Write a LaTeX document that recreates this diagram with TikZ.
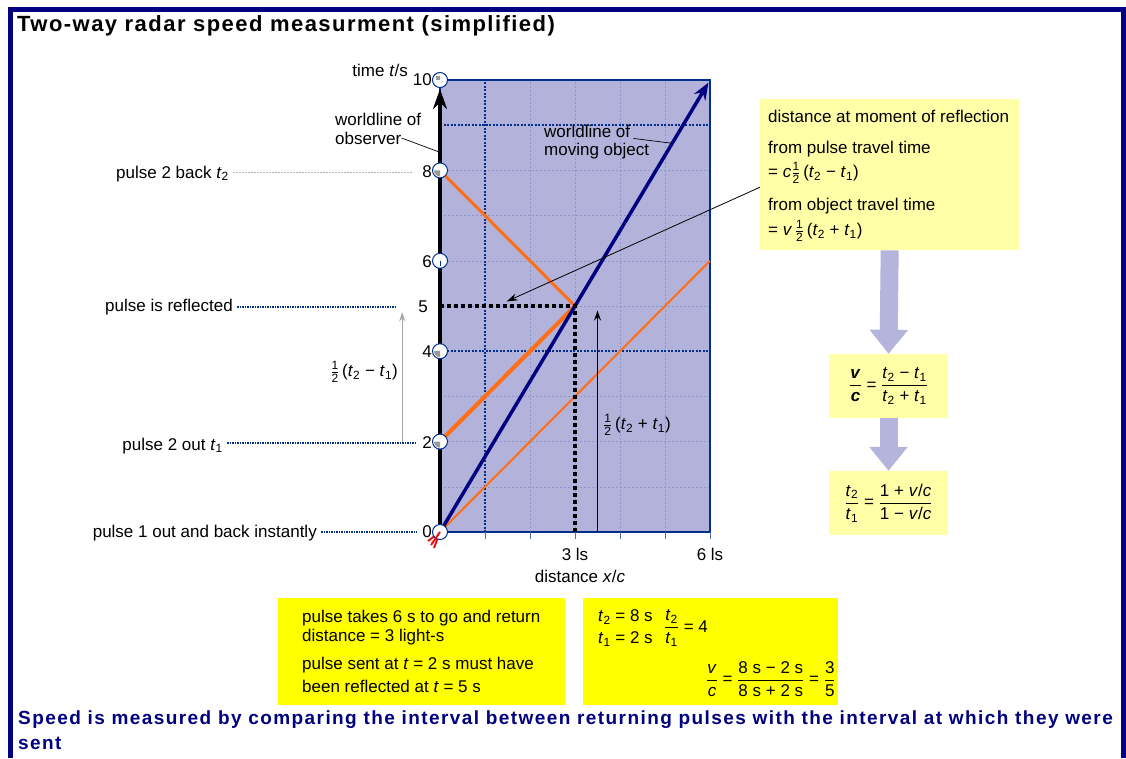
\documentclass[tikz,border=0pt]{standalone}
\usepackage{fontspec}
\setmainfont{Liberation Sans}
\usetikzlibrary{arrows.meta}
\definecolor{navy}{RGB}{0,0,128}
\definecolor{dnavy}{RGB}{0,48,140}
\definecolor{lilac}{RGB}{178,178,218}
\definecolor{gridc}{RGB}{140,150,200}
\definecolor{orng}{RGB}{255,110,20}
\definecolor{paley}{RGB}{255,255,168}
\definecolor{brighty}{RGB}{255,255,0}
\definecolor{fatc}{RGB}{180,180,220}
\definecolor{redm}{RGB}{230,20,20}
\newcommand{\ti}[1]{\textit{t}\textsubscript{#1}}
\newcommand{\myfr}[2]{\ensuremath{\displaystyle{\hbox{#1}\above 1pt\hbox{#2}}}}
\newcommand{\myhalf}{\ensuremath{{\hbox{\fontsize{12}{12}\selectfont 1}\above 0.7pt\hbox{\fontsize{12}{12}\selectfont 2}}}}
\tikzset{
  lbl/.style={font=\fontsize{17}{20}\selectfont, inner sep=0pt},
  clock/.style={circle, draw=dnavy, fill=white, line width=1pt, minimum size=15pt, inner sep=0pt},
  faint/.style={gridc, line width=0.6pt, dash pattern=on 2pt off 2pt},
  navydot/.style={dnavy, line width=2pt, dash pattern=on 2pt off 1.5pt},
  labdot/.style={dnavy, line width=1.5pt, dash pattern=on 1.5pt off 1pt},
  greydot/.style={gray!60, line width=0.7pt, dash pattern=on 1.5pt off 1.5pt},
  blackdot/.style={black, line width=3.5pt, dash pattern=on 3.5pt off 3.5pt},
  leader/.style={black, line width=0.7pt},
  ybox/.style={fill=paley, draw=none, inner sep=0pt},
  bbox/.style={fill=brighty, draw=none, inner sep=0pt},
  fatarrow/.style={fatc, line width=18pt, -{Triangle[length=24pt, width=37pt]}},
}
\begin{document}
\begin{tikzpicture}[x=1pt,y=-1pt]
\useasboundingbox (0,0) rectangle (1126,758);
\fill[white] (0,0) rectangle (1126,758);
\draw[navy, line width=5pt] (10.5,758) -- (10.5,9.5) -- (1123.5,9.5) -- (1123.5,758);

\node[anchor=west, inner sep=0pt, font=\bfseries\fontsize{22}{25}\selectfont\addfontfeature{LetterSpace=6.6}] (title) at (17,26) {Two-way radar speed measurment (simplified)};

% ---------------- plot ----------------
\begin{scope}[shift={(440,532)}, x=45pt, y=45.2pt]
  \fill[lilac] (0,0) rectangle (6,10);
  \foreach \i in {2,3,4,5} \draw[faint] (\i,0) -- (\i,10);
  \foreach \j in {1,2,3,5,6,7,8} \draw[faint] (0,\j) -- (6,\j);
  \draw[navydot] (1,0) -- (1,10);
  \draw[navydot] (0,4) -- (6,4);
  \draw[navydot] (0,9) -- (6,9);
  \draw[dnavy, line width=1.5pt] (0,0) rectangle (6,10);
  \foreach \i in {1,...,6} \draw[gridc!60!dnavy, line width=1pt] (\i,0) -- (\i,-0.16);

  \coordinate (O) at (0,0);
  \coordinate (T2) at (0,2);
  \coordinate (T5) at (0,5);
  \coordinate (T8) at (0,8);
  \coordinate (R) at (3,5);
  \coordinate (X3) at (3,0);
  \coordinate (P1) at (6,6);
  \coordinate (W10) at (6,10);
  \coordinate (Yarr) at (0,9.8);
  \coordinate (obsaxis) at (0,8.4);
  \coordinate (wlmpt) at (5.16,8.6);
  \coordinate (ha0) at (3.5,0);
  \coordinate (ha1) at (3.5,4.9);
  \coordinate (ga0) at (-0.84,2);
  \coordinate (ga1) at (-0.84,4.86);
  \coordinate (refl) at (1.48,5.1);

  \draw[orng, line width=2pt] (O) -- (P1);
  \draw[orng, line width=4pt] (T2) -- (R);
  \draw[orng, line width=3pt] (R) -- (T8);
  \draw[navy, line width=3.5pt, -{Stealth[length=17pt, width=13pt]}, shorten >=3pt] (O) -- (W10);
  \draw[blackdot] (T5) -- (R) -- (X3);
  \draw[black, line width=4pt, -{Stealth[length=20pt, width=14pt]}] (O) -- (Yarr);

  \draw[black, line width=1.2pt, -{Stealth[length=10pt, width=7pt]}] (ha0) -- (ha1);
  \draw[gray!70, line width=0.8pt, -{Stealth[length=9pt, width=6pt]}] (ga0) -- (ga1);

  \draw[redm, line width=2pt] (O) -- ++(-12pt,-9pt);
  \draw[redm, line width=2pt] (O) -- ++(-6pt,-16pt);

  \foreach \t/\n in {0/c0,2/c2,4/c4,6/c6,8/c8,10/c10}
    \node[clock] (\n) at (0,\t) {};
  \fill[gray!80] (c10.center) rectangle ++(-4.5pt,4pt);
  \foreach \n in {c8,c4,c2}
    \fill[gray!80] (\n.center) -- ++(180:6pt) arc[start angle=180, end angle=270, radius=6pt] -- cycle;
  \draw[dnavy, line width=0.8pt] (c6.center) -- ++(0,-5pt);
  \draw[redm, line width=2pt] (O) -- ++(-9pt,-13pt);
\end{scope}

% axis labels
\node[lbl, anchor=east] (l10) at (432,80) {10};
\node[lbl, anchor=east] (l8) at (432,172) {8};
\node[lbl, anchor=east] (l6) at (432,262) {6};
\node[lbl, anchor=east] (l5) at (428,307) {5};
\node[lbl, anchor=east] (l4) at (432,352) {4};
\node[lbl, anchor=east] (l2) at (432,443) {2};
\node[lbl, anchor=east] (l0) at (432,532) {0};
\node[lbl, anchor=east] (tlab) at (408,70) {time \textit{t}/s};
\node[lbl, anchor=north] (x3) at (575,548) {3 ls};
\node[lbl, anchor=north] (x6) at (710,548) {6 ls};
\node[lbl, anchor=north] (xlab) at (580,570) {distance \textit{x}/\textit{c}};

\node[lbl, anchor=west] (wlo1) at (335,119) {worldline of};
\node[lbl, anchor=west] (wlo2) at (335,138) {observer};
\draw[leader] (wlo2.east) -- (obsaxis);
\node[lbl, anchor=west] (wlm1) at (544,131) {worldline of};
\node[lbl, anchor=west] (wlm2) at (544,151) {moving object};
\draw[leader] ([xshift=3pt,yshift=-1pt]wlm1.south east) -- (wlmpt);

% left labels
\node[lbl, anchor=base east] (p2back) at (229,178) {pulse 2 back \ti{2}};
\draw[greydot] ([xshift=4pt]p2back.east |- l8.west) -- ([xshift=-10pt]l8.west);
\node[lbl, anchor=east] (prefl) at (233,307) {pulse is reflected};
\draw[labdot] ([xshift=4pt]prefl.east) -- ([xshift=-22pt]l5.west);
\node[lbl, anchor=base east] (p2out) at (223,450) {pulse 2 out \ti{1}};
\draw[labdot] ([xshift=4pt]p2out.east |- l2.west) -- ([xshift=-6pt]l2.west);
\node[lbl, anchor=east] (p1) at (317,533) {pulse 1 out and back instantly};
\draw[labdot] ([xshift=4pt]p1.east |- l0.west) -- ([xshift=-6pt]l0.west);

\node[lbl, anchor=east] (hdiff) at (398,372) {\myhalf\,(\ti{2} − \ti{1})};
\node[lbl, anchor=west] (hsum) at (603,425) {\myhalf\,(\ti{2} + \ti{1})};

% right info box
\node[ybox, minimum width=259pt, minimum height=151pt, anchor=north west] (info) at (760,99) {};
\node[lbl, anchor=west] (i1) at (768,116) {distance at moment of reflection};
\node[lbl, anchor=west] (i2) at (768,149) {from pulse travel time};
\node[lbl, anchor=west] (i3) at (768,173) {= \textit{c}\myhalf\,(\ti{2} − \ti{1})};
\node[lbl, anchor=west] (i4) at (768,206) {from object travel time};
\node[lbl, anchor=west] (i5) at (768,231) {= \textit{v}\,\myhalf\,(\ti{2} + \ti{1})};
\draw[black, line width=0.8pt, -{Stealth[length=11pt, width=7pt]}] ([yshift=-12.5pt]info.west) -- (refl);

\node[ybox, lbl, minimum width=119pt, minimum height=64pt] (vcbox) at (888.5,386)
  {\myfr{\textbf{\textit{v}}}{\textbf{\textit{c}}} = \myfr{\ti{2} − \ti{1}}{\ti{2} + \ti{1}}};
\node[ybox, lbl, minimum width=119pt, minimum height=64pt] (ttbox) at (888.5,503)
  {\myfr{\ti{2}}{\ti{1}} = \myfr{1 + \textit{v}/\textit{c}}{1 − \textit{v}/\textit{c}}};
\draw[fatarrow] (info.south) -- (vcbox.north);
\draw[fatarrow] (vcbox.south) -- (ttbox.north);

% bottom boxes
\node[bbox, minimum width=287pt, minimum height=107pt, anchor=north west] (b1) at (278,598) {};
\node[lbl, anchor=west] (b1a) at (302,618) {pulse takes 6 s to go and return};
\node[lbl, anchor=west] (b1b) at (302,637) {distance = 3 light-s};
\node[lbl, anchor=west] (b1c) at (302,665) {pulse sent at \textit{t} = 2 s must have};
\node[lbl, anchor=west] (b1d) at (302,686) {been reflected at \textit{t} = 5 s};

\node[bbox, minimum width=255pt, minimum height=107pt, anchor=north west] (b2) at (583,598) {};
\node[lbl, anchor=west] (b2a) at (598,617) {\ti{2} = 8 s};
\node[lbl, anchor=west] (b2b) at (598,639) {\ti{1} = 2 s};
\node[lbl, anchor=west] (b2c) at (664,628) {\myfr{\ti{2}}{\ti{1}} = 4};
\node[lbl, anchor=west] (b2d) at (706,679) {\myfr{\textit{v}}{\textit{c}} = \myfr{8 s − 2 s}{8 s + 2 s} = \myfr{3}{5}};

\node[anchor=north west, inner sep=0pt, align=left, text=navy,
  font=\bfseries\fontsize{19}{25}\selectfont\addfontfeature{LetterSpace=7.5}] (concl) at (18,711)
  {Speed is measured by comparing the interval between returning pulses with the interval at which they were\\sent};
\end{tikzpicture}
\end{document}
